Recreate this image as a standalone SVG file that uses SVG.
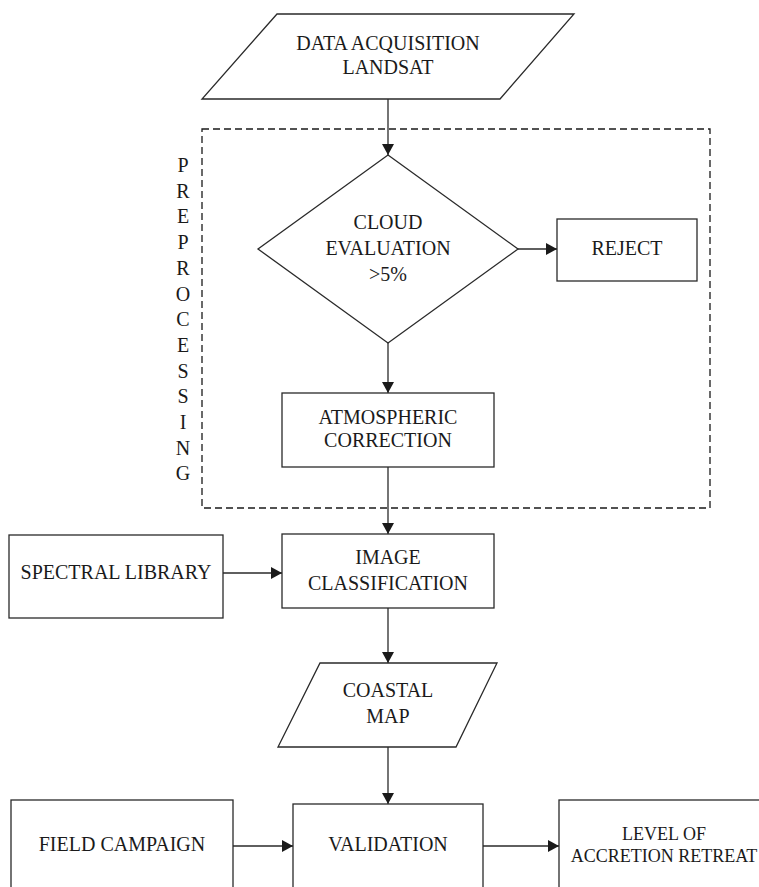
<svg xmlns="http://www.w3.org/2000/svg" width="759" height="887" viewBox="0 0 759 887">
<style>
.shape{fill:#fff;stroke:#2a2a2a;stroke-width:1.3}
.conn{fill:none;stroke:#2a2a2a;stroke-width:1.3}
.dash{fill:none;stroke:#1a1a1a;stroke-width:1.3;stroke-dasharray:7 4}
.lbl{font-family:'Liberation Serif',Tinos,'Noto Serif','DejaVu Serif',serif;font-size:20px;fill:#1a1a1a;text-anchor:middle}
.small{font-size:18px}
</style>
<defs>
<marker id="arr" markerUnits="userSpaceOnUse" markerWidth="11" markerHeight="12" refX="11" refY="6" orient="auto">
<path d="M0,0 L11,6 L0,12 z" fill="#1a1a1a"/>
</marker>
</defs>
<rect width="759" height="887" fill="#fff"/>
<g id="preprocessing" class="lbl">
<rect class="dash" x="202" y="129" width="508" height="379"/>
<text x="183" y="172">P</text>
<text x="183" y="197.7">R</text>
<text x="183" y="223.4">E</text>
<text x="183" y="249.1">P</text>
<text x="183" y="274.8">R</text>
<text x="183" y="300.5">O</text>
<text x="183" y="326.2">C</text>
<text x="183" y="351.9">E</text>
<text x="183" y="377.6">S</text>
<text x="183" y="403.3">S</text>
<text x="183" y="429">I</text>
<text x="183" y="454.7">N</text>
<text x="183" y="480.4">G</text>
</g>
<g id="connectors">
<line class="conn" x1="388" y1="99" x2="388" y2="155" marker-end="url(#arr)"/>
<line class="conn" x1="518" y1="249" x2="557" y2="249" marker-end="url(#arr)"/>
<line class="conn" x1="388" y1="343" x2="388" y2="393" marker-end="url(#arr)"/>
<line class="conn" x1="388" y1="467" x2="388" y2="534" marker-end="url(#arr)"/>
<line class="conn" x1="223" y1="573" x2="282" y2="573" marker-end="url(#arr)"/>
<line class="conn" x1="388" y1="608" x2="388" y2="663" marker-end="url(#arr)"/>
<line class="conn" x1="388" y1="747" x2="388" y2="804" marker-end="url(#arr)"/>
<line class="conn" x1="233" y1="846" x2="293" y2="846" marker-end="url(#arr)"/>
<line class="conn" x1="483" y1="846" x2="559" y2="846" marker-end="url(#arr)"/>
</g>
<g id="data-acquisition" class="lbl">
<polygon class="shape" points="277,14 574,14 500,99 202,99"/>
<text x="388" y="50">DATA ACQUISITION</text>
<text x="388" y="74">LANDSAT</text>
</g>
<g id="cloud-evaluation" class="lbl">
<polygon class="shape" points="388,155 518,249 388,343 258,249"/>
<text x="388" y="229">CLOUD</text>
<text x="388" y="255">EVALUATION</text>
<text x="388" y="281">&gt;5%</text>
</g>
<g id="reject" class="lbl">
<rect class="shape" x="557" y="219" width="140" height="62"/>
<text x="627" y="255">REJECT</text>
</g>
<g id="atmospheric-correction" class="lbl">
<rect class="shape" x="282" y="393" width="212" height="74"/>
<text x="388" y="424">ATMOSPHERIC</text>
<text x="388" y="447">CORRECTION</text>
</g>
<g id="spectral-library" class="lbl">
<rect class="shape" x="9" y="535" width="214" height="83"/>
<text x="116" y="579">SPECTRAL LIBRARY</text>
</g>
<g id="image-classification" class="lbl">
<rect class="shape" x="282" y="534" width="212" height="74"/>
<text x="388" y="564">IMAGE</text>
<text x="388" y="590">CLASSIFICATION</text>
</g>
<g id="coastal-map" class="lbl">
<polygon class="shape" points="320,663 497,663 456,747 278,747"/>
<text x="388" y="697">COASTAL</text>
<text x="388" y="723">MAP</text>
</g>
<g id="field-campaign" class="lbl">
<rect class="shape" x="11" y="800" width="222" height="100"/>
<text x="122" y="851">FIELD CAMPAIGN</text>
</g>
<g id="validation" class="lbl">
<rect class="shape" x="293" y="804" width="190" height="100"/>
<text x="388" y="851">VALIDATION</text>
</g>
<g id="level" class="lbl">
<rect class="shape" x="559" y="800" width="220" height="100"/>
<text class="small" x="664" y="840">LEVEL OF</text>
<text class="small" x="664" y="862">ACCRETION RETREAT</text>
</g>
</svg>
